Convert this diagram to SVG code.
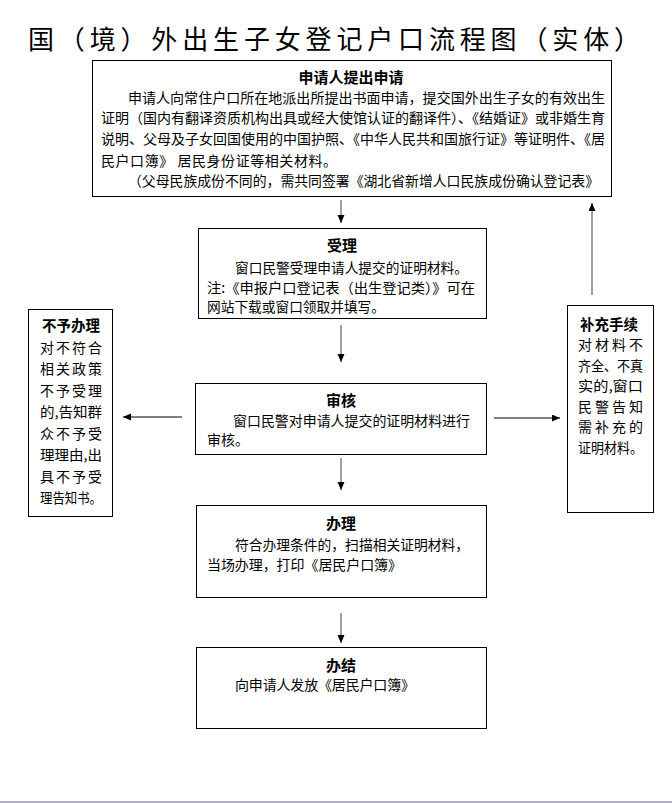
<svg xmlns="http://www.w3.org/2000/svg" width="672" height="803" viewBox="0 0 672 803">
<style>
text{font-family:"Noto Sans CJK SC","Noto Sans",sans-serif;fill:#000}
.t{font-size:14px}
.b{font-size:15px;font-weight:bold}
.box{fill:#fff;stroke:#000;stroke-width:1}
.gl{stroke:#808080;stroke-width:1.5;fill:none}
.bl{stroke:#000;stroke-width:1;fill:none}
</style>
<defs>
<marker id="ah" markerUnits="userSpaceOnUse" markerWidth="9" markerHeight="8" refX="8" refY="3.5" orient="auto">
<path d="M0,0 L8,3.5 L0,7 z" fill="#000"/>
</marker>
</defs>
<rect width="672" height="803" fill="#fff"/>
<rect x="0" y="801" width="672" height="2" fill="#b0aec0"/>
<text id="title" x="28" y="49" font-size="26" textLength="612" lengthAdjust="spacing">国（境）外出生子女登记户口流程图（实体）</text>

<g id="connectors">
<line class="gl" x1="341" y1="200" x2="341" y2="223" marker-end="url(#ah)"/>
<line class="gl" x1="341" y1="325" x2="341" y2="362" marker-end="url(#ah)"/>
<line class="gl" x1="341" y1="458" x2="341" y2="490" marker-end="url(#ah)"/>
<line class="gl" x1="341" y1="613" x2="341" y2="643" marker-end="url(#ah)"/>
<line class="bl" x1="182" y1="417" x2="123" y2="417" marker-end="url(#ah)"/>
<line class="bl" x1="494" y1="418" x2="560" y2="418" marker-end="url(#ah)"/>
<line class="gl" x1="592" y1="295" x2="592" y2="203" marker-end="url(#ah)"/>
</g>

<g id="apply">
<rect class="box" x="92.5" y="60.5" width="519" height="136"/>
<text class="b" x="351" y="83" text-anchor="middle">申请人提出申请</text>
<text class="t" x="128" y="103" textLength="477" lengthAdjust="spacingAndGlyphs">申请人向常住户口所在地派出所提出书面申请，提交国外出生子女的有效出生</text>
<text class="t" x="101" y="123" textLength="504" lengthAdjust="spacingAndGlyphs">证明（国内有翻译资质机构出具或经大使馆认证的翻译件）、《结婚证》或非婚生育</text>
<text class="t" x="101" y="144" textLength="504" lengthAdjust="spacingAndGlyphs">说明、父母及子女回国使用的中国护照、《中华人民共和国旅行证》等证明件、《居</text>
<text class="t" x="101" y="166" textLength="236" lengthAdjust="spacing">民户口簿》 居民身份证等相关材料。</text>
<text class="t" x="128" y="186" textLength="471" lengthAdjust="spacingAndGlyphs">（父母民族成份不同的，需共同签署《湖北省新增人口民族成份确认登记表》</text>
</g>

<g id="accept">
<rect class="box" x="198.5" y="228.5" width="288" height="90"/>
<text class="b" x="342" y="251" text-anchor="middle">受理</text>
<text class="t" x="235" y="273" textLength="233" lengthAdjust="spacingAndGlyphs">窗口民警受理申请人提交的证明材料。</text>
<text class="t" x="207" y="293" textLength="268" lengthAdjust="spacingAndGlyphs">注:《申报户口登记表（出生登记类）》可在</text>
<text class="t" x="207" y="312" textLength="178" lengthAdjust="spacingAndGlyphs">网站下载或窗口领取并填写。</text>
</g>

<g id="review">
<rect class="box" x="195.5" y="383.5" width="291" height="71"/>
<text class="b" x="341" y="406" text-anchor="middle">审核</text>
<text class="t" x="233" y="426" textLength="237" lengthAdjust="spacingAndGlyphs">窗口民警对申请人提交的证明材料进行</text>
<text class="t" x="207" y="445">审核。</text>
</g>

<g id="handle">
<rect class="box" x="196.5" y="505.5" width="290" height="92"/>
<text class="b" x="341" y="529" text-anchor="middle">办理</text>
<text class="t" x="235" y="550" textLength="234" lengthAdjust="spacingAndGlyphs">符合办理条件的，扫描相关证明材料，</text>
<text class="t" x="207" y="570" textLength="195" lengthAdjust="spacing">当场办理，打印《居民户口簿》</text>
</g>

<g id="finish">
<rect class="box" x="196.5" y="647.5" width="290" height="81"/>
<text class="b" x="341" y="671" text-anchor="middle">办结</text>
<text class="t" x="235" y="690" textLength="180" lengthAdjust="spacing">向申请人发放《居民户口簿》</text>
</g>

<g id="reject">
<rect class="box" x="28.5" y="309.5" width="84" height="207"/>
<text class="b" x="42" y="331" textLength="58" lengthAdjust="spacingAndGlyphs">不予办理</text>
<text class="t" x="40" y="353" textLength="62" lengthAdjust="spacing">对不符合</text>
<text class="t" x="40" y="374" textLength="62" lengthAdjust="spacing">相关政策</text>
<text class="t" x="40" y="396" textLength="62" lengthAdjust="spacing">不予受理</text>
<text class="t" x="40" y="417" textLength="62" lengthAdjust="spacingAndGlyphs">的,告知群</text>
<text class="t" x="40" y="439" textLength="62" lengthAdjust="spacing">众不予受</text>
<text class="t" x="40" y="460" textLength="62" lengthAdjust="spacingAndGlyphs">理理由,出</text>
<text class="t" x="40" y="482" textLength="62" lengthAdjust="spacing">具不予受</text>
<text class="t" x="40" y="503" textLength="62" lengthAdjust="spacingAndGlyphs">理告知书。</text>
</g>

<g id="supplement">
<rect class="box" x="567.5" y="305.5" width="86" height="207"/>
<text class="b" x="580" y="330" textLength="58" lengthAdjust="spacingAndGlyphs">补充手续</text>
<text class="t" x="578" y="350" textLength="65" lengthAdjust="spacing">对材料不</text>
<text class="t" x="578" y="371" textLength="65" lengthAdjust="spacingAndGlyphs">齐全、不真</text>
<text class="t" x="578" y="391" textLength="65" lengthAdjust="spacingAndGlyphs">实的,窗口</text>
<text class="t" x="578" y="412" textLength="65" lengthAdjust="spacing">民警告知</text>
<text class="t" x="578" y="432" textLength="65" lengthAdjust="spacing">需补充的</text>
<text class="t" x="578" y="453" textLength="65" lengthAdjust="spacingAndGlyphs">证明材料。</text>
</g>
</svg>
